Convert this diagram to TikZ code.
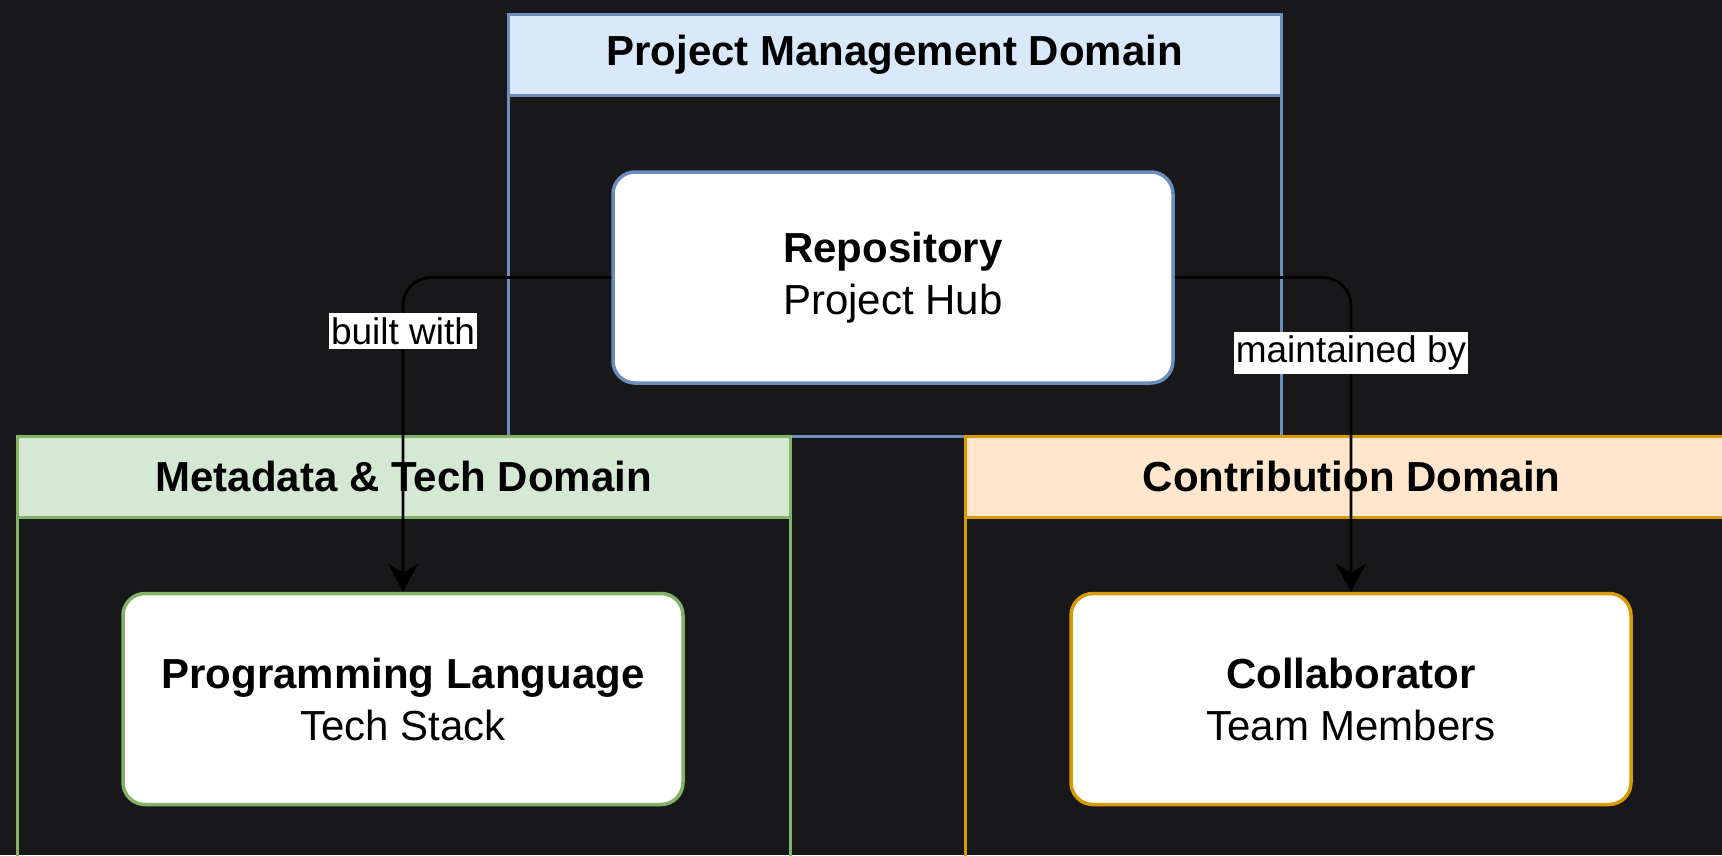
\documentclass[tikz,border=0pt]{standalone}
\usepackage{fontspec}
\setmainfont{Liberation Sans}
\usetikzlibrary{arrows.meta}

\definecolor{bgdark}{RGB}{24,24,27}
\definecolor{pmfill}{HTML}{DAE8FC}
\definecolor{pmline}{HTML}{6C8EBF}
\definecolor{techfill}{HTML}{D5E8D4}
\definecolor{techline}{HTML}{82B366}
\definecolor{contribfill}{HTML}{FFE6CC}
\definecolor{contribline}{HTML}{D79B00}

\begin{document}
\begin{tikzpicture}[x=1pt, y=-1pt,
    lane/.style={draw, line width=2.5pt, anchor=north west, inner sep=0pt, minimum width=773pt},
    lanehead/.style={lane, minimum height=81pt, font=\fontsize{42}{50}\selectfont\bfseries},
    entity/.style={draw, fill=white, line width=3.5pt, rounded corners=22pt,
      minimum width=560pt, minimum height=211pt, align=center,
      font=\fontsize{42}{52}\selectfont},
    link/.style={line width=2.7pt, rounded corners=28pt,
      -{Stealth[length=28pt, width=30pt, inset=9pt]}},
    linklabel/.style={fill=white, sharp corners, inner xsep=2pt, inner ysep=4pt,
      font=\fontsize{37}{40}\selectfont}
  ]

  \useasboundingbox (0,0) rectangle (1722,855);
  \clip (0,0) rectangle (1722,855);
  \fill[bgdark] (0,0) rectangle (1722,855);

  % Domains
  \node[lane, draw=pmline, minimum height=422pt] (pmlane) at (507,13) {};
  \node[lanehead, draw=pmline, fill=pmfill] (pmhead) at (507,13) {Project Management Domain};

  \node[lane, draw=techline, minimum height=500pt] (techlane) at (16,435) {};
  \node[lanehead, draw=techline, fill=techfill] (techhead) at (16,435) {Metadata \& Tech Domain};

  \node[lane, draw=contribline, minimum height=500pt] (contriblane) at (964,435) {};
  \node[lanehead, draw=contribline, fill=contribfill] (contribhead) at (964,435) {Contribution Domain};

  % Entities
  \node[entity, draw=pmline] (repo) at (893,277.5) {\textbf{Repository}\\Project Hub};
  \node[entity, draw=techline] (lang) at (403,699) {\textbf{Programming Language}\\Tech Stack};
  \node[entity, draw=contribline] (collab) at (1351,699) {\textbf{Collaborator}\\Team Members};

  % Relations
  \draw[link] (repo.west) -| node[linklabel, pos=0.585] {built with} (lang.north);
  \draw[link] (repo.east) -| node[linklabel, pos=0.62] {maintained by} (collab.north);

\end{tikzpicture}
\end{document}
